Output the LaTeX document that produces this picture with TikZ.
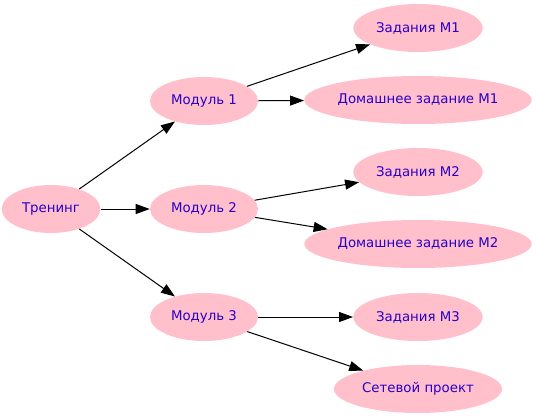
\documentclass[tikz,border=0pt]{standalone}
\usepackage{fontspec}
\setmainfont{DejaVu Sans}
\usepackage{tikz}
\usetikzlibrary{shapes.geometric, arrows.meta}

\definecolor{topicpink}{RGB}{255,192,203}
\definecolor{topicblue}{RGB}{40,0,200}

\begin{document}
\begin{tikzpicture}[x=0.75pt, y=-0.75pt,
		topic/.style={ellipse, fill=topicpink, text=topicblue, inner sep=0pt,
			minimum height=36pt, font=\fontsize{10}{12}\selectfont},
		link/.style={-{Triangle[length=10.5pt, width=7.5pt]}, line width=0.75pt}]
			\useasboundingbox (0,0) rectangle (536,419);
			
			% Root
			\node[topic, minimum width=74pt] (training) at (51,209) {Тренинг};
			
			% Modules
			\node[topic, minimum width=81pt] (mod1) at (204,101) {Модуль 1};
			\node[topic, minimum width=81pt] (mod2) at (204,209) {Модуль 2};
			\node[topic, minimum width=81pt] (mod3) at (204,317) {Модуль 3};
			
			% Tasks of each module
			\node[topic, minimum width=97pt] (task1) at (418,28) {Задания М1};
			\node[topic, minimum width=166pt] (home1) at (418,100) {Домашнее задание М1};
			\node[topic, minimum width=97pt] (task2) at (418,172) {Задания М2};
			\node[topic, minimum width=166pt] (home2) at (418,244) {Домашнее задание М2};
			\node[topic, minimum width=97pt] (task3) at (418,317) {Задания М3};
			\node[topic, minimum width=126pt] (project) at (418,389) {Сетевой проект};
			
			% Edges
			\foreach \m in {mod1,mod2,mod3} {
				\draw[link] (training) -- (\m);
			}
			\foreach \a/\b in {mod1/task1, mod1/home1, mod2/task2, mod2/home2, mod3/task3, mod3/project} {
				\draw[link] (\a) -- (\b);
			}
			
		\end{tikzpicture}
\end{document}
